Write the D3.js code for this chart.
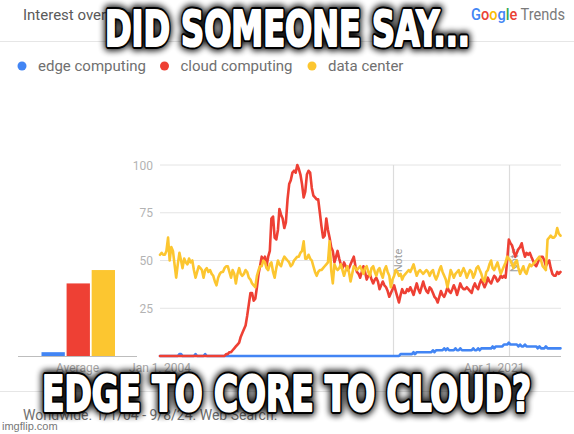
<!DOCTYPE html>
<html><head><meta charset="utf-8">
<script src="https://cdn.jsdelivr.net/npm/d3@7"></script>
<style>html,body{margin:0;padding:0;background:#fff;}svg{display:block;}</style>
</head><body><svg id="c" width="574" height="434"></svg>
<script>
// ---------- data ----------
const seriesNames = ["edge computing", "cloud computing", "data center"];
const seriesColors = ["#4285f4", "#ee4034", "#fcc630"];
const averages = [2, 38, 45];
const startMonth = "2004-01-01";
const endMonth = "2024-09-01";
const yTicks = [25, 50, 75, 100];
const xLabelDates = ["2004-01-01", "2021-04-01"];
const xLabelTexts = ["Jan 1, 2004", "Apr 1, 2021"];
const noteDates = ["2016-01-01", "2022-01-01"];

const edge = [
  0,0,0,0,0,0,0,0,0,0,0,0,
  1,1,0,0,0,0,0,0,0,0,1,0,
  0,0,0,0,1,0,0,0,0,0,0,0,
  0,0,0,0,0,0,0,0,0,0,0,0,
  0,0,0,0,0,0,0,0,0,0,0,0,
  0,0,0,0,0,0,0,0,0,0,0,0,
  0,0,0,0,0,0,0,0,0,0,0,0,
  0,0,0,0,0,0,0,0,0,0,0,0,
  0,0,0,0,0,0,0,0,0,0,0,0,
  0,0,0,0,0,0,0,0,0,0,0,0,
  0,0,0,0,0,0,0,0,0,0,0,0,
  0,0,0,0,0,0,0,0,0,0,0,0,
  0,0,0,0,0,1,1,1,1,1,1,1,
  1,2,1,2,2,2,2,2,2,2,2,2,
  2,3,2,3,3,3,3,3,4,3,4,3,
  3,3,3,4,3,3,4,3,3,3,3,3,
  3,3,4,3,3,4,3,4,4,4,4,4,
  4,4,5,4,5,5,5,5,5,6,6,6,
  7,6,6,6,6,6,5,6,5,5,6,5,
  5,5,5,5,5,5,4,5,4,4,4,5,
  4,4,4,4,4,4,4,4,4
];
const cloud = [
  0,0,0,0,0,0,0,0,0,0,0,0,
  0,0,0,0,0,0,0,0,0,0,0,0,
  0,0,0,0,0,0,0,0,0,0,0,0,
  0,0,0,0,0,1,1,2,2,3,4,5,
  6,7,10,12,14,16,21,27,33,33,29,30,
  36,43,47,52,50,52,47,52,55,72,73,62,
  61,66,77,74,72,67,70,82,90,92,96,97,
  96,100,98,95,90,83,86,95,97,96,88,84,
  83,82,82,75,68,62,63,72,66,62,57,55,
  49,52,55,51,48,46,49,47,45,46,48,50,
  52,47,44,43,41,44,47,44,40,42,43,40,
  38,40,41,39,35,37,39,37,36,34,31,33,
  35,37,34,31,28,32,35,33,33,35,34,36,
  34,32,35,38,35,33,36,39,36,34,33,36,
  35,33,31,30,28,31,34,32,31,33,36,34,
  33,35,37,35,32,35,38,36,35,35,36,35,
  34,33,36,38,36,35,38,40,38,36,38,41,
  39,38,40,42,41,39,40,42,41,42,41,50,
  61,59,58,55,52,54,56,57,59,55,52,54,
  53,54,52,50,48,47,49,51,52,52,50,47,
  49,50,46,43,42,42,44,43,44
];
const dataCenter = [
  53,54,53,53,55,62,50,57,55,48,41,48,
  54,50,46,51,49,48,51,49,50,45,41,44,
  47,46,45,41,45,46,44,45,43,42,39,37,
  41,43,44,44,46,47,47,44,41,45,43,38,
  43,46,43,42,43,45,44,41,40,38,37,36,
  42,45,47,47,50,49,46,45,48,49,44,41,
  46,50,48,47,50,52,51,50,49,47,48,50,
  51,52,52,54,55,60,51,51,53,51,50,47,
  44,42,44,45,45,46,47,48,49,60,45,38,
  48,46,45,46,48,45,42,45,47,44,39,43,
  47,46,45,46,47,45,43,46,47,44,42,46,
  47,44,42,45,46,43,41,45,47,44,42,36,
  40,42,45,44,42,43,40,42,43,44,45,44,
  46,48,45,42,44,45,44,43,44,45,44,42,
  44,45,42,40,42,45,47,44,42,40,36,40,
  45,43,41,43,44,45,42,44,46,44,41,43,
  45,44,41,43,46,47,45,43,40,39,44,45,
  48,50,46,45,47,49,46,43,45,47,49,52,
  51,50,48,46,49,50,46,43,45,47,44,43,
  46,48,47,48,49,50,51,52,50,47,46,45,
  61,62,63,62,62,63,67,64,63
];
const seriesValues = [edge, cloud, dataCenter];

// ---------- drawing ----------
const svg = d3.select("#c");
const W = 574, H = 434;
svg.append("rect").attr("width", W).attr("height", H).attr("fill", "#fff");
const defs = svg.append("defs");
defs.append("filter").attr("id", "blur").attr("x", "-10%").attr("y", "-30%").attr("width", "120%").attr("height", "160%")
  .append("feGaussianBlur").attr("stdDeviation", 3);

const gfont = "Roboto, 'Open Sans', Arial, sans-serif";

// header
svg.append("text").attr("x", 23).attr("y", 20).attr("font-family", gfont).attr("font-size", 15)
  .attr("fill", "#5a5a5a").text("Interest over time");
const logo = svg.append("text").attr("x", 471).attr("y", 20).attr("font-family", gfont).attr("font-size", 16)
  .attr("textLength", 94).attr("lengthAdjust", "spacingAndGlyphs");
const gl = [["G","#4285f4"],["o","#ea4335"],["o","#fbbc05"],["g","#4285f4"],["l","#34a853"],["e","#ea4335"]];
gl.forEach(([ch, col]) => logo.append("tspan").attr("fill", col).attr("font-weight", 500).text(ch));
logo.append("tspan").attr("fill", "#7a7a7a").text(" Trends");

svg.append("line").attr("x1", 0).attr("x2", W).attr("y1", 41.5).attr("y2", 41.5).attr("stroke", "#e6e6e6");

// legend
const legendX = [22, 164.5, 312];
seriesNames.forEach((n, i) => {
  svg.append("circle").attr("cx", legendX[i]).attr("cy", 66).attr("r", 4.5).attr("fill", seriesColors[i]);
  svg.append("text").attr("x", legendX[i] + 16).attr("y", 71).attr("font-family", gfont).attr("font-size", 15)
    .attr("fill", "#707070").text(n);
});

// scales
const parse = d3.utcParse("%Y-%m-%d");
const x = d3.scaleUtc().domain([parse(startMonth), parse(endMonth)]).range([160, 560.5]);
const y = d3.scaleLinear().domain([0, 100]).range([356, 165]);

// grid
svg.append("g").selectAll("line").data(yTicks).join("line")
  .attr("x1", 160).attr("x2", 561).attr("y1", d => y(d)).attr("y2", d => y(d))
  .attr("stroke", "#e4e4e4").attr("stroke-width", 1);
svg.append("g").selectAll("text").data(yTicks).join("text")
  .attr("x", 153).attr("y", d => y(d) + 4.5).attr("text-anchor", "end")
  .attr("font-family", gfont).attr("font-size", 12).attr("fill", "#b3b3b3").text(d => d);

// note lines
noteDates.forEach(d => {
  const xx = Math.round(x(parse(d))) + 0.5;
  svg.append("line").attr("x1", xx).attr("x2", xx).attr("y1", y(100)).attr("y2", y(0))
    .attr("stroke", "#dcdcdc").attr("stroke-width", 1.2);
  svg.append("text").attr("transform", `translate(${xx + 8},${y(50)}) rotate(-90)`)
    .attr("text-anchor", "middle").attr("font-family", gfont).attr("font-size", 11)
    .attr("fill", "#a0a0a0").text("Note");
});

// baselines
svg.append("line").attr("x1", 160).attr("x2", 561).attr("y1", y(0) + 0.5).attr("y2", y(0) + 0.5).attr("stroke", "#bdbdbd");
svg.append("line").attr("x1", 18).attr("x2", 137).attr("y1", y(0) + 0.5).attr("y2", y(0) + 0.5).attr("stroke", "#bdbdbd");

// average bars
const xb = d3.scaleBand().domain(seriesNames).range([41.5, 115]).paddingInner(0.07);
svg.append("g").selectAll("rect").data(averages).join("rect")
  .attr("x", (d, i) => xb(seriesNames[i])).attr("width", xb.bandwidth())
  .attr("y", d => y(d)).attr("height", d => y(0) - y(d))
  .attr("fill", (d, i) => seriesColors[i]);

// lines
const line = d3.line().x((d, i) => x(d3.utcMonth.offset(parse(startMonth), i))).y(d => y(d)).curve(d3.curveLinear);
seriesValues.forEach((vals, i) => {
  svg.append("path").datum(vals).attr("d", line).attr("fill", "none")
    .attr("stroke", seriesColors[i]).attr("stroke-width", 2.6)
    .attr("stroke-linejoin", "round").attr("stroke-linecap", "round");
});

// x labels
svg.append("text").attr("x", 77.5).attr("y", 372).attr("text-anchor", "middle").attr("font-family", gfont)
  .attr("font-size", 12).attr("fill", "#a8a8a8").text("Average");
xLabelDates.forEach((d, i) => {
  svg.append("text").attr("x", x(parse(d))).attr("y", 372).attr("text-anchor", "middle").attr("font-family", gfont)
    .attr("font-size", 12).attr("fill", "#a8a8a8").text(xLabelTexts[i]);
});

// footer
svg.append("line").attr("x1", 0).attr("x2", W).attr("y1", 391.5).attr("y2", 391.5).attr("stroke", "#e6e6e6");
svg.append("text").attr("x", 23).attr("y", 420).attr("font-family", gfont).attr("font-size", 14)
  .attr("fill", "#707070").text("Worldwide. 1/1/04 - 9/8/24. Web Search.");

// meme captions
function meme(text, cx, baseline, width, size) {
  const g = svg.append("g");
  const base = t => t.attr("x", cx).attr("y", baseline).attr("text-anchor", "middle")
    .attr("font-family", "Impact, 'Liberation Sans Narrow', 'DejaVu Sans Condensed', sans-serif")
    .attr("font-weight", "bold").attr("font-size", size)
    .attr("textLength", width).attr("lengthAdjust", "spacingAndGlyphs").text(text);
  base(g.append("text")).attr("fill", "#000").attr("stroke", "#000").attr("stroke-width", 10)
    .attr("stroke-linejoin", "round").attr("filter", "url(#blur)").attr("opacity", 0.9);
  base(g.append("text")).attr("fill", "#000").attr("stroke", "#000").attr("stroke-width", 6)
    .attr("stroke-linejoin", "round");
  base(g.append("text")).attr("fill", "#fff").attr("stroke", "#fff").attr("stroke-width", 2.2)
    .attr("stroke-linejoin", "round");
}
meme("DID SOMEONE SAY...", 287.5, 45.5, 365, 49);
meme("EDGE TO CORE TO CLOUD?", 286.5, 411, 489, 49);

// watermark
svg.append("text").attr("x", 2).attr("y", 430).attr("font-family", "'Liberation Sans', Arial, sans-serif")
  .attr("font-size", 11).attr("fill", "#777").attr("stroke", "#fff").attr("stroke-width", 2)
  .attr("paint-order", "stroke").text("imgflip.com");
</script></body></html>
